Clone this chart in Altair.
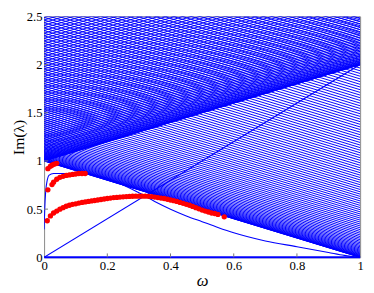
import altair as alt
import numpy as np
import pandas as pd

# Continuous spectrum branches: Im(λ) = Ω_k - ω and Im(λ) = Ω_k + ω, Ω_k = sqrt(1 + k²)
k_step = 0.03
im_max = 2.5

# Blue internal-mode curve (starts near 0.29 at ω=0, flat ~0.87, then decays to 0 at ω=1)
omega_D = [0.0, 0.002, 0.005, 0.01, 0.015, 0.03, 0.1, 0.15, 0.2, 0.25, 0.3, 0.35, 0.4,
           0.45, 0.5, 0.55, 0.6, 0.7, 0.8, 0.9, 0.95, 1.0]
im_D = [0.29, 0.5, 0.68, 0.8, 0.85, 0.87, 0.87, 0.86, 0.82, 0.75, 0.67, 0.58, 0.5,
        0.43, 0.37, 0.31, 0.255, 0.17, 0.11, 0.05, 0.02, 0.0]

omega_diag = [0.0, 1.0]
im_diag = [0.0, 2.0]
omega_zero = [0.0, 1.0]
im_zero = [0.0, 0.0]

# Red dots (three internal modes)
omega_r1 = [0.01, 0.02, 0.03, 0.04, 0.05, 0.06, 0.07, 0.08, 0.09, 0.10, 0.11, 0.12, 0.13,
            0.14, 0.15, 0.16, 0.17, 0.18, 0.19, 0.20, 0.21, 0.22, 0.23, 0.24, 0.25, 0.26,
            0.27, 0.28, 0.29, 0.30, 0.31, 0.32, 0.33, 0.34, 0.35, 0.36, 0.37, 0.38, 0.39,
            0.40, 0.41, 0.42, 0.43, 0.44, 0.45, 0.46, 0.47, 0.48, 0.49, 0.50, 0.51, 0.52,
            0.53, 0.54, 0.55, 0.57]
im_r1 = [0.38, 0.43, 0.46, 0.48, 0.50, 0.515, 0.53, 0.54, 0.55, 0.555, 0.563, 0.57, 0.575,
         0.58, 0.585, 0.59, 0.595, 0.60, 0.605, 0.61, 0.615, 0.62, 0.622, 0.625, 0.628, 0.63,
         0.632, 0.634, 0.635, 0.635, 0.635, 0.635, 0.633, 0.63, 0.625, 0.62, 0.615, 0.61, 0.603,
         0.595, 0.588, 0.58, 0.57, 0.56, 0.55, 0.54, 0.528, 0.515, 0.503, 0.49, 0.48, 0.47,
         0.46, 0.455, 0.445, 0.42]
omega_r2 = [0.012, 0.025, 0.03, 0.04, 0.05, 0.06, 0.07, 0.08, 0.09, 0.10, 0.11, 0.12, 0.13]
im_r2 = [0.70, 0.755, 0.78, 0.81, 0.83, 0.84, 0.85, 0.855, 0.86, 0.865, 0.87, 0.87, 0.87]
omega_r3 = [0.012, 0.02, 0.025, 0.03, 0.035, 0.04]
im_r3 = [0.92, 0.945, 0.955, 0.965, 0.97, 0.975]

x_ticks = [0, 0.2, 0.4, 0.6, 0.8, 1]
y_ticks = [0, 0.5, 1, 1.5, 2, 2.5]

# ---- tables ----
rows = []
n = 0
while True:
    om = float(np.sqrt(1.0 + (n * k_step) ** 2))
    if om - 1.0 > im_max + 0.05:
        break
    rows += [dict(id=f"a{n}", omega=0.0, im=om), dict(id=f"a{n}", omega=1.0, im=om - 1.0)]
    if om <= im_max + 0.05:
        rows += [dict(id=f"b{n}", omega=0.0, im=om), dict(id=f"b{n}", omega=1.0, im=om + 1.0)]
    n += 1
band = pd.DataFrame(rows)

special = pd.concat([
    pd.DataFrame(dict(id="D", omega=omega_D, im=im_D)),
    pd.DataFrame(dict(id="diag", omega=omega_diag, im=im_diag)),
], ignore_index=True)
zero = pd.DataFrame(dict(omega=omega_zero, im=im_zero))

dots = pd.concat([
    pd.DataFrame(dict(omega=omega_r1, im=im_r1)),
    pd.DataFrame(dict(omega=omega_r2, im=im_r2)),
    pd.DataFrame(dict(omega=omega_r3, im=im_r3)),
], ignore_index=True)

xt = pd.DataFrame(dict(omega=x_ticks[1:-1]))
yt = pd.DataFrame(dict(im=y_ticks[1:-1]))

SERIF = "Times New Roman, Liberation Serif, serif"

xs = alt.Scale(domain=[0, 1], nice=False, zero=False)
ys = alt.Scale(domain=[0, 2.5], nice=False, zero=False)

xax = alt.Axis(values=x_ticks, format="~g", title="ω", titleFontStyle="italic",
               titleFontSize=17, titlePadding=0, labelPadding=3, labelFlush=False,
               ticks=False, domain=False, grid=False)
yax = alt.Axis(values=y_ticks, format="~g", title="Im(λ)", titleFontSize=16,
               titlePadding=0, labelPadding=2, labelFlush=False,
               ticks=False, domain=False, grid=False)

X = alt.X("omega:Q", scale=xs, axis=xax)
Y = alt.Y("im:Q", scale=ys, axis=yax)

H = 247

band_layer = alt.Chart(band).mark_line(clip=True, color="#0000ff", strokeWidth=1.0).encode(
    x=X, y=Y, detail="id:N")
special_layer = alt.Chart(special).mark_line(clip=True, color="#0000ff", strokeWidth=1.1,
                                              interpolate="monotone").encode(
    x="omega:Q", y="im:Q", detail="id:N")
zero_layer = alt.Chart(zero).mark_line(color="#0000ff", strokeWidth=2).encode(
    x="omega:Q", y="im:Q")
dots_layer = alt.Chart(dots).mark_circle(size=30, color="#ff0000", opacity=1).encode(
    x="omega:Q", y="im:Q")
xtick_layer = alt.Chart(xt).mark_rule(color="#777777", strokeWidth=1).encode(
    x="omega:Q", y=alt.value(H), y2=alt.value(H - 4))
ytick_layer = alt.Chart(yt).mark_rule(color="#777777", strokeWidth=1).encode(
    y="im:Q", x=alt.value(0), x2=alt.value(4))

chart = alt.layer(band_layer, special_layer, zero_layer, dots_layer, xtick_layer, ytick_layer).properties(
    width=324, height=H,
    padding={"left": 37, "top": 5, "right": 6, "bottom": 34},
    autosize=alt.AutoSizeParams(type="none"),
).configure_view(stroke="#888888", strokeWidth=1).configure_axis(
    labelFont=SERIF, labelFontSize=13, labelColor="black",
    titleFont=SERIF, titleColor="black", titleFontWeight="normal",
)

chart.save("out.html", embed_options={"renderer": "svg", "actions": False})
